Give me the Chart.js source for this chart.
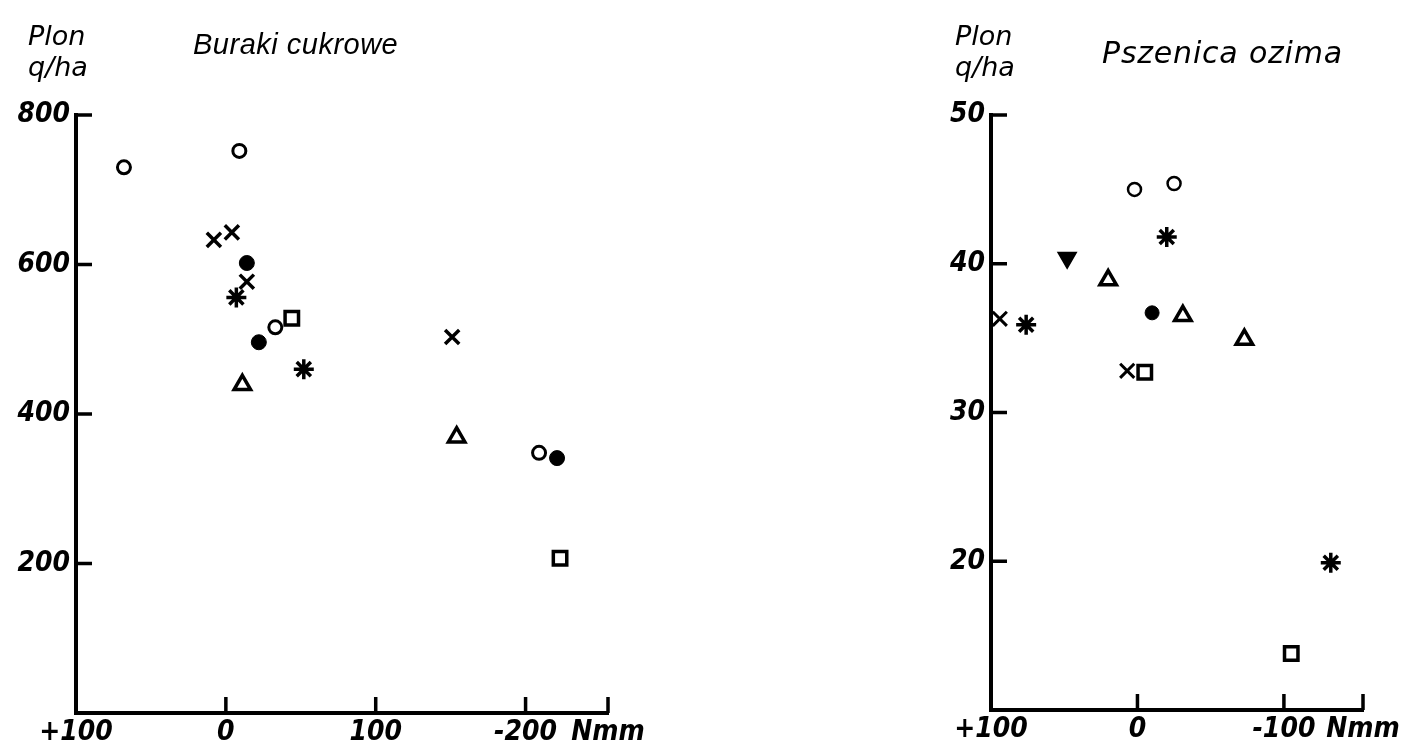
<!DOCTYPE html>
<html>
<head>
<meta charset="utf-8">
<script src="https://cdn.jsdelivr.net/npm/chart.js@4.4.1/dist/chart.umd.min.js"></script>
<style>
  html, body { margin: 0; padding: 0; background: #fff; }
  body { width: 1405px; height: 744px; position: relative; overflow: hidden; }
  canvas { position: absolute; top: 0; }
  #buraki { left: 0; }
  #pszenica { left: 880px; }
</style>
</head>
<body>
<canvas id="buraki" width="700" height="744"></canvas>
<canvas id="pszenica" width="525" height="744"></canvas>
<script>
// ---- Buraki cukrowe (plon q/ha vs odchylenie opadów Nmm) ----
const burakiOpenCircle   = [[68, 730], [-9, 752], [-33, 516], [-209, 348]];
const burakiFilledCircle = [[-14, 602], [-22, 496], [-221, 341]];
const burakiCross        = [[8, 633], [-4, 643], [-14, 577], [-151, 503]];
const burakiStar         = [[-7, 556], [-52, 460]];
const burakiSquare       = [[-44, 528], [-223, 207]];
const burakiTriangle     = [[-11, 439], [-154, 369]];

const burakiXTicks  = [100, 0, -100, -200, -255];
const burakiXLabels = ['+100', '0', '100', '-200', 'Nmm'];
const burakiYTicks  = [0, 200, 400, 600, 800];
const burakiYLabels = ['', '200', '400', '600', '800'];

// ---- Pszenica ozima ----
const pszenicaOpenCircle   = [[2, 45.0], [-25, 45.4]];
const pszenicaFilledCircle = [[-10, 36.7]];
const pszenicaCross        = [[94, 36.3], [7, 32.8]];
const pszenicaStar         = [[-20, 41.8], [76, 35.9], [-132, 19.9]];
const pszenicaSquare       = [[-5, 32.7], [-105, 13.8]];
const pszenicaTriangle     = [[20, 38.9], [-31, 36.5], [-73, 34.9]];
const pszenicaDownTriangle = [[48, 40.4]];

const pszenicaXTicks  = [100, 0, -100, -154];
const pszenicaXLabels = ['+100', '0', '-100', 'Nmm'];
const pszenicaYTicks  = [10, 20, 30, 40, 50];
const pszenicaYLabels = ['', '20', '30', '40', '50'];

const INK = '#000';
const NUM_FONT = { family: '"DejaVu Sans Condensed", "DejaVu Sans", sans-serif', size: 28, style: 'italic', weight: 'bold' };

// krótkie kreski podziałki skierowane do wnętrza wykresu
const innerTicks = {
    id: 'innerTicks',
    afterDraw(chart, args, opts) {
        const { ctx, chartArea, scales } = chart;
        ctx.save();
        ctx.strokeStyle = INK;
        ctx.lineWidth = opts.width;
        ctx.lineCap = 'butt';
        ctx.beginPath();
        opts.x.forEach(v => {
            const px = scales.x.getPixelForValue(v);
            ctx.moveTo(px, chartArea.bottom);
            ctx.lineTo(px, chartArea.bottom - opts.len);
        });
        opts.y.forEach(v => {
            const py = scales.y.getPixelForValue(v);
            ctx.moveTo(chartArea.left, py);
            ctx.lineTo(chartArea.left + opts.len, py);
        });
        ctx.stroke();
        ctx.restore();
    }
};

// podpisy: "Plon q/ha" nad osią i tytuł
const captions = {
    id: 'captions',
    afterDraw(chart, args, opts) {
        const { ctx, chartArea } = chart;
        ctx.save();
        ctx.fillStyle = INK;
        ctx.textBaseline = 'alphabetic';
        ctx.textAlign = 'left';
        ctx.font = 'italic 27px "DejaVu Sans", sans-serif';
        ctx.fillText('Plon', chartArea.left + opts.unitDx, 45);
        ctx.fillText('q/ha', chartArea.left + opts.unitDx, 76);
        ctx.font = opts.titleFont;
        ctx.letterSpacing = opts.titleSpacing;
        ctx.fillText(opts.title, chartArea.left + opts.titleDx, opts.titleY);
        ctx.restore();
    }
};

function toPoints(arr) {
    return arr.map(p => ({ x: p[0], y: p[1] }));
}

function markerSet(data, style, filled, radius, width, rotation) {
    return {
        data: toPoints(data),
        pointStyle: style,
        pointRadius: radius,
        pointHoverRadius: radius,
        pointBorderWidth: width,
        pointBorderColor: INK,
        pointBackgroundColor: filled ? INK : '#fff',
        pointRotation: rotation || 0,
        showLine: false,
        clip: false
    };
}

function makeChart(canvasId, datasets, cfg) {
    return new Chart(document.getElementById(canvasId), {
        type: 'scatter',
        data: { datasets: datasets },
        plugins: [innerTicks, captions],
        options: {
            responsive: false,
            animation: false,
            events: [],
            layout: { padding: cfg.padding },
            plugins: {
                legend: { display: false },
                tooltip: { enabled: false },
                innerTicks: { x: cfg.xTicks.slice(1), y: cfg.yTicks.slice(1), len: 16, width: 3.5 },
                captions: cfg.captions
            },
            scales: {
                x: {
                    type: 'linear',
                    reverse: true,
                    min: cfg.xTicks[cfg.xTicks.length - 1],
                    max: cfg.xTicks[0],
                    afterBuildTicks: s => { s.ticks = cfg.xTicks.map(v => ({ value: v })); },
                    afterFit: s => { s.height = cfg.xHeight; },
                    grid: { display: false, drawTicks: false },
                    border: { display: true, color: INK, width: 4 },
                    ticks: {
                        color: INK,
                        font: NUM_FONT,
                        padding: 3,
                        maxRotation: 0,
                        autoSkip: false,
                        callback: (v, i) => cfg.xLabels[i]
                    }
                },
                y: {
                    type: 'linear',
                    min: cfg.yTicks[0],
                    max: cfg.yTicks[cfg.yTicks.length - 1],
                    afterBuildTicks: s => { s.ticks = cfg.yTicks.map(v => ({ value: v })); },
                    afterFit: s => { s.width = cfg.yWidth; },
                    grid: { display: false, drawTicks: false },
                    border: { display: true, color: INK, width: 4 },
                    ticks: {
                        color: INK,
                        font: NUM_FONT,
                        padding: 6,
                        autoSkip: false,
                        callback: (v, i) => cfg.yLabels[i]
                    }
                }
            }
        }
    });
}

makeChart('buraki', [
    markerSet(burakiOpenCircle, 'circle', false, 6.5, 3),
    markerSet(burakiFilledCircle, 'circle', true, 7.5, 1),
    markerSet(burakiCross, 'crossRot', false, 10, 3.5),
    markerSet(burakiStar, 'star', false, 10, 3.5),
    markerSet(burakiSquare, 'rect', false, 9.5, 3.5),
    markerSet(burakiTriangle, 'triangle', false, 9.5, 3.5)
], {
    padding: { left: 0, top: 115, right: 92, bottom: 0 },
    yWidth: 76,
    xHeight: 31,
    xTicks: burakiXTicks, xLabels: burakiXLabels,
    yTicks: burakiYTicks, yLabels: burakiYLabels,
    captions: { unitDx: -48, title: 'Buraki cukrowe', titleDx: 117, titleY: 54,
                titleFont: 'italic 29px "Liberation Sans", sans-serif', titleSpacing: '0.5px' }
});

makeChart('pszenica', [
    markerSet(pszenicaOpenCircle, 'circle', false, 6.5, 2.5),
    markerSet(pszenicaFilledCircle, 'circle', true, 7, 1),
    markerSet(pszenicaCross, 'crossRot', false, 10, 3),
    markerSet(pszenicaStar, 'star', false, 10, 3.5),
    markerSet(pszenicaSquare, 'rect', false, 9.5, 3.5),
    markerSet(pszenicaTriangle, 'triangle', false, 9.5, 3.5),
    markerSet(pszenicaDownTriangle, 'triangle', true, 10, 2, 180)
], {
    padding: { left: 35, top: 115, right: 42, bottom: 0 },
    yWidth: 76,
    xHeight: 34,
    xTicks: pszenicaXTicks, xLabels: pszenicaXLabels,
    yTicks: pszenicaYTicks, yLabels: pszenicaYLabels,
    captions: { unitDx: -36, title: 'Pszenica ozima', titleDx: 111, titleY: 63,
                titleFont: 'italic 30px "DejaVu Sans", sans-serif', titleSpacing: '0.8px' }
});
</script>
</body>
</html>
